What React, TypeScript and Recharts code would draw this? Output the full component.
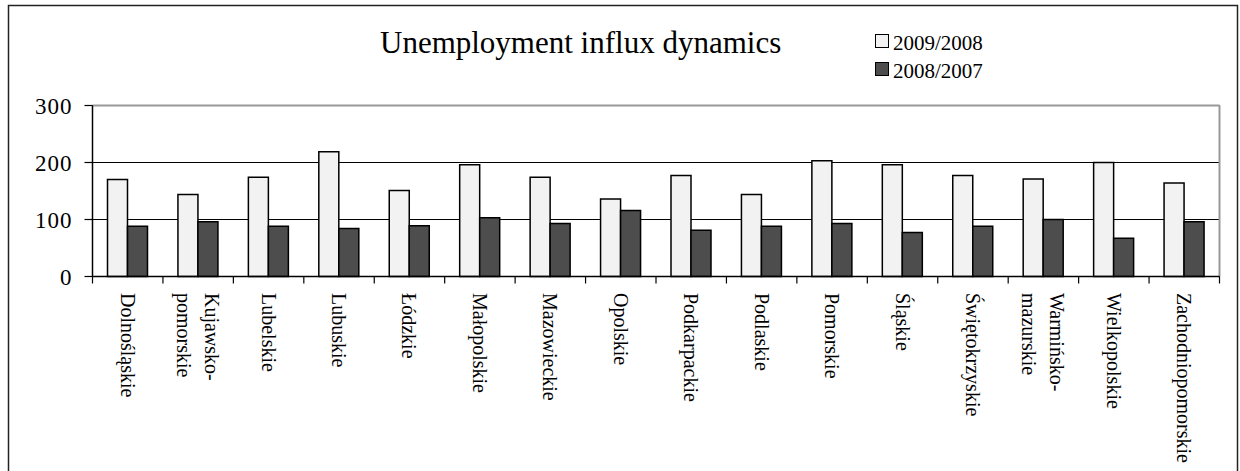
import React from 'react';
import { BarChart, Bar, XAxis, YAxis, CartesianGrid, Legend, ReferenceLine } from 'recharts';

const regions = [
  'Dolnośląskie',
  'Kujawsko-\npomorskie',
  'Lubelskie',
  'Lubuskie',
  'Łódzkie',
  'Małopolskie',
  'Mazowieckie',
  'Opolskie',
  'Podkarpackie',
  'Podlaskie',
  'Pomorskie',
  'Śląskie',
  'Świętokrzyskie',
  'Warmińsko-\nmazurskie',
  'Wielkopolskie',
  'Zachodniopomorskie',
];
const dyn2009 = [170, 144, 174, 219, 151, 196, 174, 136, 177, 144, 203, 196, 177, 171, 200, 164];
const dyn2008 = [88, 96, 88, 84, 89, 103, 93, 116, 81, 88, 93, 77, 88, 100, 67, 96];
const yTicks = [0, 100, 200, 300];
const seriesOrder = ['2009/2008', '2008/2007'];

const data = regions.map((r, i) => ({ region: r, a: dyn2009[i], b: dyn2008[i] }));

const FONT = '"Times New Roman", "Liberation Serif", serif';

// etykiety osi X obrócone o 90 stopni + kreski podziału na granicach kategorii
const RegionTick = (props: any) => {
  const { x, y, payload, index, width, visibleTicksCount } = props;
  const half = payload.offset ? payload.offset : width / visibleTicksCount / 2;
  const lines = String(payload.value).split('\n');
  const lh = 28;
  return (
    <g>
      <line x1={x - half} x2={x - half} y1={y} y2={y + 7} stroke="#000" strokeWidth={1.2} />
      {index === visibleTicksCount - 1 && (
        <line x1={x + half} x2={x + half} y1={y} y2={y + 7} stroke="#000" strokeWidth={1.2} />
      )}
      <g transform={`translate(${x},${y + 16.5})`}>
        <text transform="rotate(90)" textAnchor="start" fontFamily={FONT} fontSize={20} fill="#000">
          {lines.map((l, i) => (
            <tspan key={i} x={0} y={(i - (lines.length - 1) / 2) * lh + 7}>
              {l}
            </tspan>
          ))}
        </text>
      </g>
    </g>
  );
};

const LegendBox = (props: any) => {
  const items = [...(props.payload || [])].sort(
    (p: any, q: any) => seriesOrder.indexOf(p.value) - seriesOrder.indexOf(q.value)
  );
  return (
    <div style={{ fontFamily: FONT, fontSize: 21, color: '#000' }}>
      {items.map((e: any) => (
        <div key={e.value} style={{ display: 'flex', alignItems: 'flex-start', height: 28, lineHeight: '28px' }}>
          <span
            style={{
              display: 'inline-block',
              width: 12,
              height: 12,
              marginTop: 5,
              marginRight: 4,
              border: '1px solid #000',
              background: e.color,
            }}
          />
          <span>{e.value}</span>
        </div>
      ))}
    </div>
  );
};

const App: React.FC = () => {
  return (
    <div style={{ position: 'absolute', left: 0, top: 0, width: 1240, height: 471, overflow: 'hidden', background: '#fff' }}>
      <svg width={1240} height={471} style={{ position: 'absolute', left: 0, top: 0 }}>
        <rect x={8.5} y={5.5} width={1229} height={520} fill="none" stroke="#222" strokeWidth={1.5} />
        <text x={380} y={53} fontFamily={FONT} fontSize={31} fill="#000">
          Unemployment influx dynamics
        </text>
      </svg>
      <div style={{ position: 'absolute', left: 0, top: 0 }}>
        <BarChart
          width={1240}
          height={471}
          data={data}
          margin={{ top: 105.5, right: 20.5, bottom: 0, left: 8.5 }}
          barSize={20}
          barGap={0}
        >
          <CartesianGrid vertical={false} stroke="#000" strokeWidth={1} />
          <CartesianGrid
            horizontal={false}
            stroke="#999"
            strokeWidth={2}
            verticalCoordinatesGenerator={({ offset }: any) => [offset.left + offset.width]}
          />
          <XAxis
            dataKey="region"
            interval={0}
            height={194.5}
            tickLine={false}
            tickSize={0}
            tickMargin={0}
            axisLine={{ stroke: '#000', strokeWidth: 1.5 }}
            tick={<RegionTick />}
          />
          <YAxis
            width={84}
            domain={[0, 300]}
            ticks={yTicks}
            tickSize={8}
            tickMargin={12}
            axisLine={{ stroke: '#000', strokeWidth: 1.5 }}
            tickLine={{ stroke: '#000', strokeWidth: 1.2 }}
            tick={{ fontFamily: FONT, fontSize: 23, fill: '#000', letterSpacing: 1 }}
          />
          <ReferenceLine y={300} stroke="#999" strokeWidth={2} />
          <Legend
            layout="vertical"
            align="center"
            verticalAlign="middle"
            content={<LegendBox />}
            wrapperStyle={{ left: 875, top: 29, width: 200 }}
          />
          <Bar dataKey="a" name="2009/2008" fill="#f2f2f2" stroke="#000" strokeWidth={1.5} isAnimationActive={false} />
          <Bar dataKey="b" name="2008/2007" fill="#4d4d4d" stroke="#000" strokeWidth={1.5} isAnimationActive={false} />
        </BarChart>
      </div>
    </div>
  );
};

export default App;
